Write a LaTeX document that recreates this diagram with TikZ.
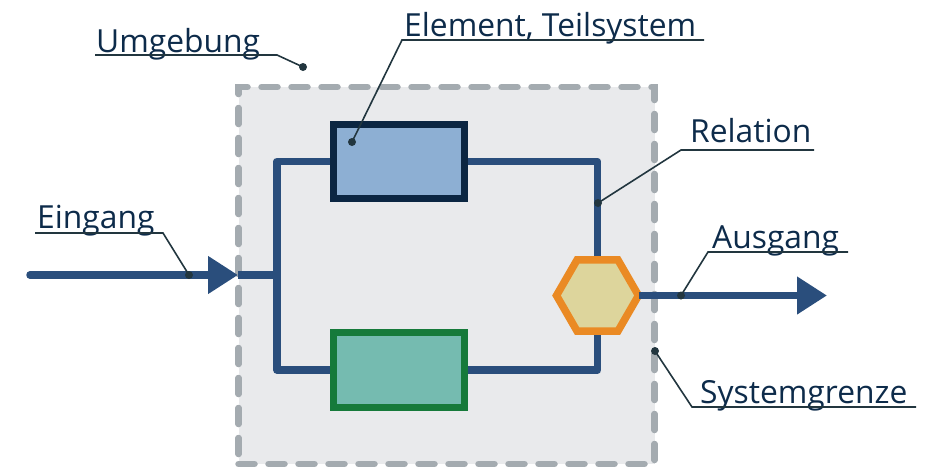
\documentclass[tikz,border=0pt]{standalone}
\usepackage{fontspec}
\setmainfont{Open Sans}
\usetikzlibrary{arrows.meta,shapes.geometric}

\definecolor{txt}{HTML}{0D2B4A}
\definecolor{lead}{HTML}{22363F}
\definecolor{conncol}{HTML}{2A4E7C}
\definecolor{sysfill}{HTML}{E9EAEC}
\definecolor{sysline}{HTML}{A4ABB0}
\definecolor{blueedge}{HTML}{0B2642}
\definecolor{bluefill}{HTML}{8DAFD3}
\definecolor{greenedge}{HTML}{167A3A}
\definecolor{greenfill}{HTML}{75BBB0}
\definecolor{hexedge}{HTML}{EA8A24}
\definecolor{hexfill}{HTML}{DDD59C}

\pgfdeclarelayer{back}
\pgfdeclarelayer{wires}
\pgfsetlayers{back,wires,main}

\tikzset{
  conn/.style={draw=conncol, line width=7.5pt, line join=round},
  flow/.style={conn, -{Triangle[length=30pt,width=36pt]}},
  element/.style={rectangle, line width=7.5pt, minimum width=131pt,
    minimum height=74pt, inner sep=0pt, outer sep=0pt},
  lbl/.style={text=txt, font=\fontsize{31.8}{36}\selectfont, inner sep=0pt,
    anchor=base west},
  leader/.style={draw=lead, line width=1.6pt},
  pin/.style={fill=lead, draw=none},
}

\begin{document}
\begin{tikzpicture}[x=1pt, y=-1pt]
\useasboundingbox (0,0) rectangle (935,469);

% system boundary
\begin{pgfonlayer}{back}
\node[draw=sysline, fill=sysfill, line width=6.5pt, dash pattern=on 16pt off 14pt,
  line cap=round, rectangle, inner sep=0pt, outer sep=0pt,
  minimum width=416pt, minimum height=377pt] (sys) at (446.5,275.5) {};
\end{pgfonlayer}

% elements
\node[element, draw=blueedge, fill=bluefill] (e1) at (399,161.5) {};
\node[element, draw=greenedge, fill=greenfill, minimum height=75pt] (e2) at (399,370) {};
\node[regular polygon, regular polygon sides=6, minimum size=82pt,
  draw=hexedge, fill=hexfill, line width=7.5pt, inner sep=0pt, outer sep=0pt]
  (hex) at (597.5,295.5) {};

% connection points
\coordinate (jl) at (277,275);
\coordinate (src) at (30,275);
\coordinate (bin) at (238,275);
\coordinate (dst) at (827,295.5);

% relations
\begin{pgfonlayer}{wires}
\draw[conn] (e1.west) -| (jl) |- (e2.west);
\draw[conn] (e1.east) -| (hex.north);
\draw[conn] (e2.east) -| (hex.south);
\draw[conn] (bin) -- (jl);
\end{pgfonlayer}

% input and output
\draw[flow, line cap=round] (src) -- (bin);
\draw[flow] (hex.east) -- (dst);

% labels
\node[lbl] (lumg) at (96,52) {Umgebung};
\node[lbl] (lel) at (404,36) {Element, Teilsystem};
\node[lbl] (lrel) at (690,142) {Relation};
\node[lbl] (lein) at (37,228) {Eingang};
\node[lbl] (laus) at (712,248) {Ausgang};
\node[lbl] (lsys) at (700,403) {Systemgrenze};

% leader targets
\coordinate (pumg) at (303,67);
\coordinate (pel) at (352,142);
\coordinate (prel) at (598,203);
\coordinate (pein) at (189,275);
\coordinate (paus) at (681,295.5);
\coordinate (psys) at (655,351);

% underlines with leaders
\draw[leader] (95,55) -- (277,55) -- (pumg);
\draw[leader] (704,40) -- (402,40) -- (pel);
\draw[leader] (814,150) -- (681,150) -- (prel);
\draw[leader] (35,233) -- (163,233) -- (pein);
\draw[leader] (848,252) -- (708,252) -- (paus);
\draw[leader] (916,407) -- (692,407) -- (psys);

\foreach \p in {pumg,pel,prel,pein,paus,psys}
  \fill[pin] (\p) circle (4pt);
\end{tikzpicture}
\end{document}
